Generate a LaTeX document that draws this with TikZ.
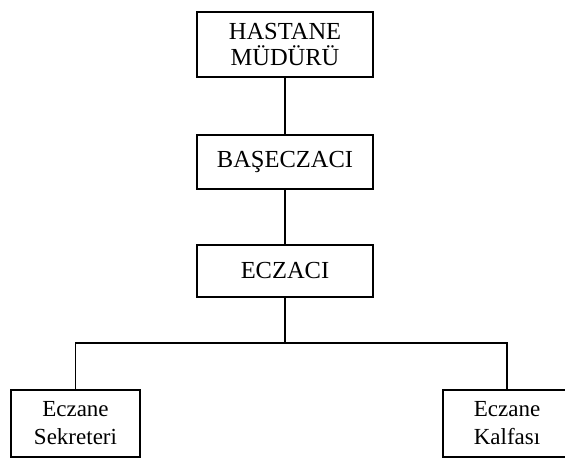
\documentclass[tikz,border=0pt]{standalone}
\usepackage{fontspec}
\setmainfont{Liberation Serif}
\begin{document}
\begin{tikzpicture}[x=1pt,y=-1pt,
  orgbox/.style={draw, line width=1.9pt, inner sep=0pt, align=center,
    font=\fontsize{23}{28}\selectfont},
  headbox/.style={orgbox, font=\fontsize{24.5}{26.5}\selectfont},
  link/.style={line width=1.9pt}]
  \useasboundingbox (0,0) rectangle (565,459);
  \clip (0,0) rectangle (565,459);

  % management chain
  \node[headbox, minimum width=176, minimum height=65] (mudur) at (285,44.5) {HASTANE\\MÜDÜRÜ};
  \node[headbox, minimum width=176, minimum height=54] (bas) at (285,162) {BAŞECZACI};
  \node[headbox, minimum width=176, minimum height=52] (ecz) at (285,271) {ECZACI};

  % pharmacy staff
  \node[orgbox, minimum width=129, minimum height=67] (sek) at (75.5,423.5) {Eczane\\Sekreteri};
  \node[orgbox, minimum width=128, minimum height=67] (kalfa) at (507,423.5) {Eczane\\Kalfası};

  % connectors
  \coordinate (split) at (285,343);
  \draw[link] (mudur.south) -- (bas.north);
  \draw[link] (bas.south) -- (ecz.north);
  \draw[link] (ecz.south) -- (split);
  \draw[link] (sek.north) |- (split) -| (kalfa.north);
\end{tikzpicture}
\end{document}
